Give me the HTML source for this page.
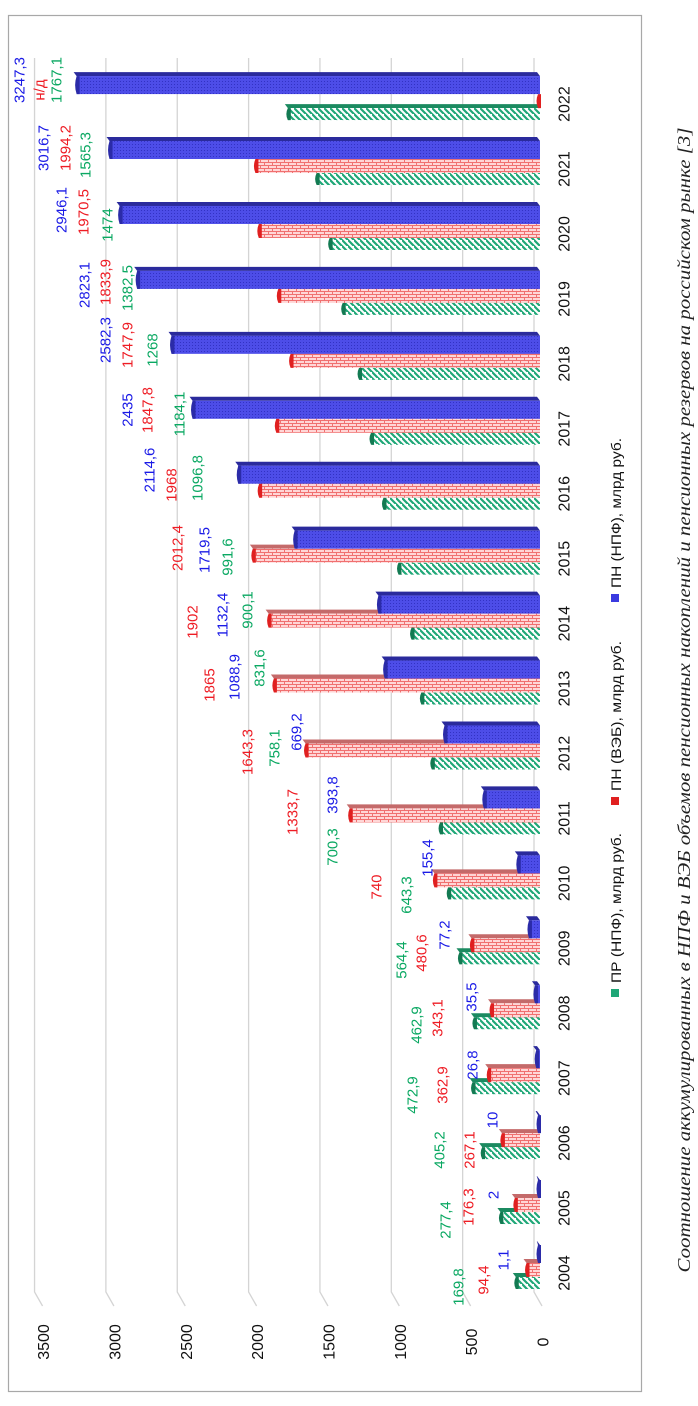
<!DOCTYPE html>
<html><head><meta charset="utf-8">
<style>
html,body{margin:0;padding:0;background:#fff;}
svg{display:block;}
</style></head>
<body>
<svg id="chart" width="698" height="1406" viewBox="0 0 698 1406" xmlns="http://www.w3.org/2000/svg" font-family="Liberation Sans, sans-serif">
<defs>
<pattern id="pBlue" width="3" height="3" patternUnits="userSpaceOnUse">
<rect width="3" height="3" fill="#4d4de8"/><rect width="1" height="1" fill="#3232c4"/>
</pattern>
<pattern id="pRed" width="8" height="6" patternUnits="userSpaceOnUse">
<rect width="8" height="6" fill="#ffd6d6"/>
<rect y="0" width="8" height="1" fill="#f07070"/>
<rect y="3" width="8" height="1" fill="#f07070"/>
<rect x="0" y="0" width="1" height="3" fill="#f07070"/>
<rect x="4" y="3" width="1" height="3" fill="#f07070"/>
</pattern>
<pattern id="pGreen" width="6" height="6" patternUnits="userSpaceOnUse">
<rect width="6" height="6" fill="#ffffff"/>
<path d="M-1,-1 L7,7 M-4,2 L2,8 M4,-4 L10,2" stroke="#1fa777" stroke-width="2.2"/>
</pattern>
</defs>
<rect x="0" y="0" width="698" height="1406" fill="#fff"/>
<rect x="8.5" y="15.5" width="633" height="1376" fill="none" stroke="#a8a8a8" stroke-width="1.2"/>
<g id="grid"></g>
<g id="bars"></g>
<g id="labels"></g>
<g id="axes"></g>
<g id="legend"></g>
<text transform="translate(690,700) rotate(-90)" text-anchor="middle" font-family="Liberation Serif, serif" font-style="italic" font-size="18" fill="#222" textLength="1145" lengthAdjust="spacingAndGlyphs">Соотношение аккумулированных в НПФ и ВЭБ объемов пенсионных накоплений и пенсионных резервов на российском рынке [3]</text>
</svg>
<script>
const years = [2004,2005,2006,2007,2008,2009,2010,2011,2012,2013,2014,2015,2016,2017,2018,2019,2020,2021,2022];
const prNpf = [169.8,277.4,405.2,472.9,462.9,564.4,643.3,700.3,758.1,831.6,900.1,991.6,1096.8,1184.1,1268,1382.5,1474,1565.3,1767.1];
const pnVeb = [94.4,176.3,267.1,362.9,343.1,480.6,740,1333.7,1643.3,1865,1902,2012.4,1968,1847.8,1747.9,1833.9,1970.5,1994.2,null];
const pnNpf = [1.1,2,10,26.8,35.5,77.2,155.4,393.8,669.2,1088.9,1132.4,1719.5,2114.6,2435,2582.3,2823.1,2946.1,3016.7,3247.3];
const valueTicks = [0,500,1000,1500,2000,2500,3000,3500];
const legendLabels = ["ПР (НПФ), млрд руб.","ПН (ВЭБ), млрд руб.","ПН (НПФ), млрд руб."];

// layout (label placement, not data)
const lblGreen = [[459,1287],[446,1220],[440,1150],[413,1095],[417,1025],[402,960],[407,895],[333,847],[275,748],[260,668],[248,610],[228,557],[198,478],[180,414],[153,350],[128,288],[108,225],[86,155],[57,80]];
const lblRed   = [[484,1280],[469,1207],[470,1150],[443,1085],[438,1018],[422,953],[377,887],[293,812],[248,752],[210,685],[193,622],[178,548],[172,485],[148,410],[128,345],[106,282],[84,212],[66,148],[40,90]];
const lblBlue  = [[504,1260],[494,1195],[493,1120],[473,1065],[472,997],[445,935],[428,858],[333,795],[297,732],[235,677],[223,615],[205,550],[150,470],[128,410],[106,340],[85,285],[62,210],[44,148],[20,80]];

const NS = "http://www.w3.org/2000/svg";
const X0 = 540, PX = 0.1427;
function xv(v){ return X0 - v*PX; }
function yc(i){ return 1273 - i*64.94; }
function fmt(v){ return v===null ? "н/д" : String(v).replace(".", ","); }
function mk(tag, attrs, parent){
  const e = document.createElementNS(NS, tag);
  for (const k in attrs) e.setAttribute(k, attrs[k]);
  parent.appendChild(e);
  return e;
}
const grid = document.getElementById('grid');
const bars = document.getElementById('bars');
const labels = document.getElementById('labels');
const axes = document.getElementById('axes');
const legend = document.getElementById('legend');

// gridlines (back wall) + floor diagonal
valueTicks.forEach(t => {
  const gx = xv(t) - 6;
  const p = mk('path', {d:`M${gx},58 L${gx},1292 L${gx+8},1306`, stroke:'#d4d4d4', 'stroke-width':1.3, fill:'none'}, grid);
  
  
  const tl = mk('text', {transform:`translate(${xv(t)+4},1342) rotate(-90)`, 'text-anchor':'middle', 'dominant-baseline':'central', 'font-size':16, fill:'#111'}, axes);
  tl.textContent = t;
  
  
});

const series = [
  {vals: prNpf, fill:'url(#pGreen)', top:'#1b8a60', cap:'#137a52', t:0, fh:12, color:'#0aa862', lbl:lblGreen, name:'pr-npf'},
  {vals: pnVeb, fill:'url(#pRed)', top:'#c46a6a', cap:'#e02020', t:-14, fh:14, color:'#ee1c24', lbl:lblRed, name:'pn-veb'},
  {vals: pnNpf, fill:'url(#pBlue)', top:'#2a2a9c', cap:'#2b2ba8', t:-32, fh:18, color:'#1a1ae6', lbl:lblBlue, name:'pn-npf'}
];

years.forEach((yr, i) => {
  const c = yc(i);
  series.forEach(s => {
    const v = s.vals[i];
    const ve = v === null ? 0 : v;
    const x1 = xv(ve), w = Math.max(X0 - x1, 2);
    const topY = c + s.t;
    const tf = mk('polygon', {points:`${x1-3},${topY} ${X0-3},${topY} ${X0},${topY+4} ${X0-w},${topY+4}`, fill:s.top}, bars);
    
    
    const r = mk('rect', {x:X0-w, y:topY+4, width:w, height:s.fh, fill:s.fill}, bars);
    
    
    const cp = mk('path', {d:`M${X0-w},${topY+4} L${X0-w+3},${topY+4} L${X0-w+3},${topY+4+s.fh} L${X0-w},${topY+4+s.fh} Q${X0-w-3},${topY+4+s.fh/2} ${X0-w},${topY+4} Z`, fill:s.cap}, bars);
    
    
    const p = s.lbl[i];
    const t = mk('text', {transform:`translate(${p[0]},${p[1]}) rotate(-90)`, 'text-anchor':'middle', 'dominant-baseline':'central', 'font-size':15, fill:s.color}, labels);
    t.textContent = fmt(v);
    
    
  });
  const yl = mk('text', {transform:`translate(565,${c}) rotate(-90)`, 'text-anchor':'middle', 'dominant-baseline':'central', 'font-size':16, fill:'#111'}, axes);
  yl.textContent = yr;
  
  
});

// legend
const legPos = [{my:993, col:'#1fa777', name:'legend-pr-npf'}, {my:801, col:'#e02020', name:'legend-pn-veb'}, {my:598, col:'#3a3ae0', name:'legend-pn-npf'}];
legPos.forEach((L, k) => {
  const m = mk('rect', {x:611, y:L.my-4, width:8, height:8, fill:L.col}, legend);
  
  
  const t = mk('text', {transform:`translate(616,${L.my-10}) rotate(-90)`, 'text-anchor':'start', 'dominant-baseline':'central', 'font-size':14, fill:'#111', textLength:150, lengthAdjust:'spacingAndGlyphs'}, legend);
  t.textContent = legendLabels[k];
  
  
});
</script>
</body></html>
